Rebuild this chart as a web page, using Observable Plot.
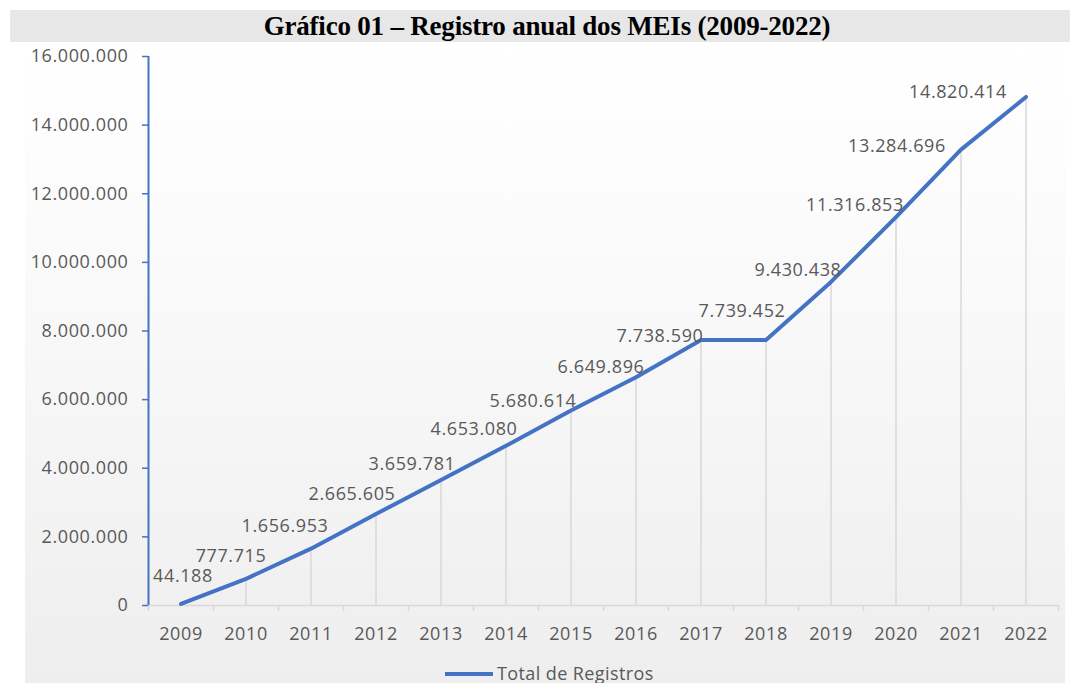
<!DOCTYPE html>
<html>
<head>
<meta charset="utf-8">
<script src="https://cdn.jsdelivr.net/npm/d3@7"></script>
<script src="https://cdn.jsdelivr.net/npm/@observablehq/plot@0.6"></script>
<style>
  html, body { margin: 0; padding: 0; background: #ffffff; width: 1070px; height: 683px; overflow: hidden; }
  #title {
    position: absolute; left: 10px; top: 10px; width: 1060px; height: 32px;
    background: #e7e7e7; text-align: center; padding-left: 14px; box-sizing: border-box;
    font-family: "Liberation Serif", "Times New Roman", serif; font-weight: bold; font-size: 27px;
    line-height: 33px; color: #000; letter-spacing: -0.2px;
  }
  #wrap { position: absolute; left: 0; top: 44px; width: 1070px; height: 639px; }
  #bg { position: absolute; left: 25px; right: 5px; top: 0; bottom: 0;
        background: linear-gradient(to bottom, #ffffff 0%, #fbfbfb 30%, #eeeeee 100%); }
  #chart { position: absolute; left: 0; top: 0; }
  #legend { position: absolute; left: 0; top: 620px; width: 1070px; height: 19px;
            font-family: "Open Sans", sans-serif; font-size: 18px; color: #595959; letter-spacing: 0.4px; }
  #legend .sw { position: absolute; left: 445px; top: 8px; width: 48px; height: 4px; background: #4472c4; }
  #legend .lb { position: absolute; left: 497px; top: -3px; line-height: 24px; }
</style>
</head>
<body>
<div id="title">Gráfico 01 – Registro anual dos MEIs (2009-2022)</div>
<div id="wrap">
  <div id="bg"></div>
  <div id="chart"></div>
  <div id="legend"><div class="sw"></div><div class="lb">Total de Registros</div></div>
</div>
<script>
const years = [2009, 2010, 2011, 2012, 2013, 2014, 2015, 2016, 2017, 2018, 2019, 2020, 2021, 2022];
const registros = [44188, 777715, 1656953, 2665605, 3659781, 4653080, 5680614, 6649896, 7738590, 7739452, 9430438, 11316853, 13284696, 14820414];
const yTicks = [0, 2000000, 4000000, 6000000, 8000000, 10000000, 12000000, 14000000, 16000000];
const seriesName = "Total de Registros";

// Data-label placement (pixel nudges, as manually placed in the original chart)
const labelNudge = {
  2009: [2, -28], 2010: [-15, -23], 2011: [-26, -22], 2012: [-24, -20],
  2013: [-29, -16], 2014: [-32, -17], 2015: [-38, -9], 2016: [-35, -10],
  2017: [-41, -4], 2018: [-24, -29], 2019: [-33, -12], 2020: [-41, -12],
  2021: [-64, -3], 2022: [-68, -5]
};

const data = years.map((y, i) => ({year: y, value: registros[i]}));
const boundaries = [...years.map(y => y - 0.5), years[years.length - 1] + 0.5];
const locale = d3.formatLocale({decimal: ",", thousands: ".", grouping: [3], currency: ["", ""]});
const fmt = locale.format(",d");

const blue = "#4472c4";
const gray = "#595959";
const grid = "#d9d9d9";

const labelMarks = data.map(d => Plot.text([d], {
  x: "year", y: "value", text: v => fmt(v.value),
  dx: labelNudge[d.year][0], dy: labelNudge[d.year][1], fill: gray
}));

const chart = Plot.plot({
  width: 1070,
  height: 620,
  marginLeft: 148,
  marginRight: 12,
  marginTop: 12,
  marginBottom: 59,
  style: {fontFamily: "'Open Sans', sans-serif", fontSize: "18px", color: gray, background: "transparent", overflow: "visible", letterSpacing: "0.6px"},
  x: {type: "linear", domain: [years[0] - 0.5, years[years.length - 1] + 0.5]},
  y: {domain: [0, 16000000]},
  marks: [
    Plot.ruleX(data, {x: "year", y1: 0, y2: "value", stroke: grid, strokeWidth: 1.5}),
    Plot.ruleY([0], {stroke: grid, strokeWidth: 1.5}),
    Plot.axisX({ticks: boundaries, tickSize: 6, tickFormat: () => "", stroke: grid, strokeWidth: 1.5, label: null}),
    Plot.axisX({ticks: years, tickSize: 0, tickPadding: 22, tickFormat: d => String(d), fill: gray, label: null}),
    Plot.axisY({ticks: yTicks, tickSize: 6, tickPadding: 14, tickFormat: fmt, stroke: blue, fill: gray, label: null, strokeWidth: 1.5, style: {letterSpacing: "0.9px"}}),
    Plot.ruleX([years[0] - 0.5], {stroke: blue, strokeWidth: 2}),
    Plot.line(data, {x: "year", y: "value", stroke: blue, strokeWidth: 4, strokeLinejoin: "round", strokeLinecap: "round"}),
    ...labelMarks
  ]
});
document.getElementById("chart").appendChild(chart);
</script>
</body>
</html>
